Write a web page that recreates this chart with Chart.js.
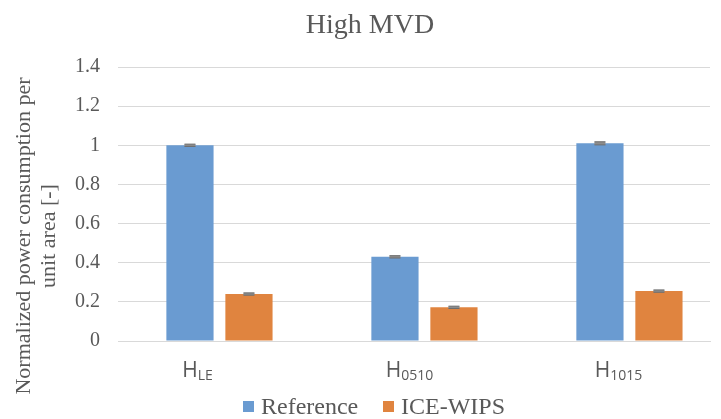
<!DOCTYPE html>
<html>
<head>
<meta charset="utf-8">
<script src="https://cdn.jsdelivr.net/npm/chart.js@4"></script>
<style>
html,body{margin:0;padding:0;background:#fff;}
#wrap{width:721px;height:419px;position:relative;}
</style>
</head>
<body>
<div id="wrap"><canvas id="c" width="721" height="419"></canvas></div>
<script>
const categories = ["H_LE", "H_0510", "H_1015"];
const labelMain = ["H", "H", "H"];
const labelSub = ["LE", "0510", "1015"];
const seriesNames = ["Reference", "ICE-WIPS"];
const referenceValues = [1.0, 0.43, 1.01];
const iceWipsValues = [0.24, 0.172, 0.255];
const referenceErrors = [0.006, 0.006, 0.008];
const iceWipsErrors = [0.006, 0.006, 0.006];
const yTicks = [0, 0.2, 0.4, 0.6, 0.8, 1, 1.2, 1.4];
const titleText = "High MVD";
const yTitleLines = ["Normalized power consumption per", "unit area [-]"];

const TEXT = '#595959';
const SERIF = '"Liberation Serif", "DejaVu Serif", serif';
const SANS = '"Open Sans", "Liberation Sans", sans-serif';
const COLORS = ['#6a9bd1', '#e0843f'];
const LABEL_SHIFT = [-22, -15, -11];

const errorBarPlugin = {
  id: 'errorBars',
  afterDatasetsDraw(chart) {
    const ctx = chart.ctx;
    const yScale = chart.scales.y;
    const errs = [referenceErrors, iceWipsErrors];
    chart.data.datasets.forEach((ds, di) => {
      const meta = chart.getDatasetMeta(di);
      meta.data.forEach((bar, i) => {
        const v = ds.data[i].y, e = errs[di][i];
        const yTop = yScale.getPixelForValue(v + e);
        const yBot = yScale.getPixelForValue(v - e);
        const x = bar.x, hw = 5.5;
        ctx.save();
        ctx.fillStyle = '#8c8c8c';
        ctx.fillRect(x - hw, yTop, hw * 2, Math.max(2, yBot - yTop));
        ctx.strokeStyle = '#6e6e6e';
        ctx.lineWidth = 1;
        ctx.beginPath();
        ctx.moveTo(x - hw, yTop); ctx.lineTo(x + hw, yTop);
        ctx.moveTo(x - hw, yBot); ctx.lineTo(x + hw, yBot);
        ctx.stroke();
        ctx.restore();
      });
    });
  }
};

const textPlugin = {
  id: 'texts',
  afterDraw(chart) {
    const ctx = chart.ctx;
    const xs = chart.scales.x;
    const ca = chart.chartArea;
    ctx.save();
    ctx.fillStyle = TEXT;
    ctx.font = '28px ' + SERIF;
    ctx.textAlign = 'center';
    ctx.textBaseline = 'alphabetic';
    ctx.fillText(titleText, 370, 33);
    const baseY = ca.bottom + 36;
    categories.forEach((c, i) => {
      const cx = xs.getPixelForValue(i) + LABEL_SHIFT[i];
      ctx.font = '21px ' + SANS;
      const wMain = ctx.measureText(labelMain[i]).width;
      ctx.font = '14px ' + SANS;
      const wSub = ctx.measureText(labelSub[i]).width;
      const start = cx - (wMain + wSub) / 2;
      ctx.textAlign = 'left';
      ctx.font = '21px ' + SANS;
      ctx.fillText(labelMain[i], start, baseY);
      ctx.font = '14px ' + SANS;
      ctx.fillText(labelSub[i], start + wMain, baseY + 3);
    });
    ctx.save();
    ctx.translate(0, 236);
    ctx.rotate(-Math.PI / 2);
    ctx.font = '22px ' + SERIF;
    ctx.textAlign = 'center';
    ctx.textBaseline = 'middle';
    ctx.fillText(yTitleLines[0], 0, 24);
    ctx.fillText(yTitleLines[1], 0, 49);
    ctx.restore();
    const legendX = [243, 383];
    ctx.font = '24px ' + SERIF;
    ctx.textAlign = 'left';
    seriesNames.forEach((n, i) => {
      ctx.fillStyle = COLORS[i];
      ctx.fillRect(legendX[i], 401, 11, 11);
      ctx.fillStyle = TEXT;
      ctx.fillText(n, legendX[i] + 18, 414);
    });
    ctx.restore();
  }
};

const toPoints = vals => vals.map((v, i) => ({ x: i, y: v }));

new Chart(document.getElementById('c'), {
  type: 'bar',
  data: {
    datasets: [
      { label: seriesNames[0], data: toPoints(referenceValues), backgroundColor: COLORS[0], borderWidth: 0 },
      { label: seriesNames[1], data: toPoints(iceWipsValues), backgroundColor: COLORS[1], borderWidth: 0 }
    ]
  },
  options: {
    responsive: false,
    animation: false,
    devicePixelRatio: 1,
    categoryPercentage: 0.5756,
    barPercentage: 0.8,
    layout: { padding: { left: 4, right: 11, top: 67, bottom: 0 } },
    plugins: {
      title: { display: false },
      legend: { display: false },
      tooltip: { enabled: false }
    },
    scales: {
      x: {
        type: 'linear',
        offset: false,
        min: -0.495,
        max: 2.393,
        afterBuildTicks(s) { s.ticks = categories.map((c, i) => ({ value: i })); },
        grid: { display: false, drawTicks: false },
        border: { display: true, color: '#d9d9d9', width: 1 },
        ticks: { display: false },
        afterFit(s) { s.height = 78; }
      },
      y: {
        min: 0, max: 1.4,
        afterBuildTicks(s) { s.ticks = yTicks.map(v => ({ value: v })); },
        grid: { color: '#d9d9d9', drawTicks: false },
        border: { display: false },
        ticks: {
          color: TEXT,
          padding: 18,
          font: { family: SERIF, size: 20 },
          callback: v => String(v)
        },
        afterFit(s) { s.width = 114; }
      }
    }
  },
  plugins: [errorBarPlugin, textPlugin]
});
</script>
</body>
</html>
